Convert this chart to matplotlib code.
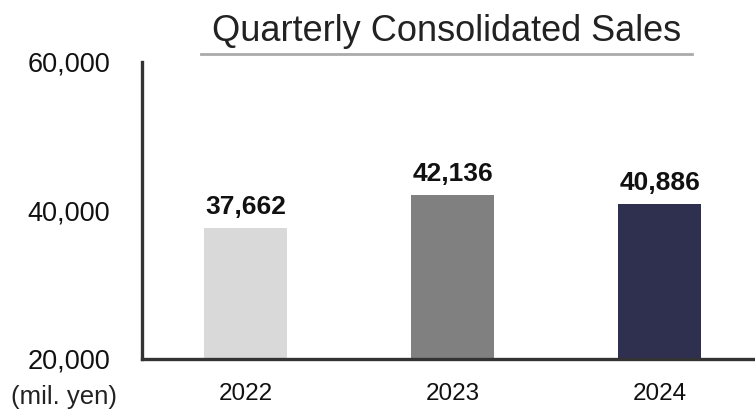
import matplotlib
matplotlib.use("Agg")
import matplotlib.pyplot as plt
from matplotlib.lines import Line2D
from matplotlib.ticker import FuncFormatter

plt.rcParams['font.family'] = ['Liberation Sans', 'DejaVu Sans']

years = ["2022", "2023", "2024"]
sales = [37662, 42136, 40886]
bar_colors = ["#d9d9d9", "#808080", "#2f2f50"]
y_ticks = [20000, 40000, 60000]

fig = plt.figure(figsize=(7.55, 4.15), dpi=100)
ax = fig.add_axes([0.188, 0.135, 0.812, 0.716])

x = list(range(len(years)))
bars = ax.bar(x, sales, width=0.4, color=bar_colors, zorder=2)

for rect, v in zip(bars, sales):
    ax.annotate(f"{v:,}", (rect.get_x() + rect.get_width() / 2, rect.get_height()),
                xytext=(0, 6), textcoords="offset points",
                ha="center", va="bottom", fontsize=19, fontweight="bold", color="#111111")

ax.set_xlim(-0.5, 2.46)
ax.set_ylim(20000, 60000)
ax.set_yticks(y_ticks)
ax.yaxis.set_major_formatter(FuncFormatter(lambda v, p: f"{int(v):,}"))
ax.set_xticks(x)
ax.set_xticklabels(years)
ax.tick_params(axis="y", length=0, pad=23, labelsize=19.5, labelcolor="#111111")
ax.tick_params(axis="x", length=0, pad=17, labelsize=17.5, labelcolor="#111111")

for side in ("top", "right"):
    ax.spines[side].set_visible(False)
for side in ("left", "bottom"):
    ax.spines[side].set_linewidth(2.4)
    ax.spines[side].set_color("#333333")
    ax.spines[side].set_capstyle("projecting")

fig.text(0.085, 0.043, "(mil. yen)", ha="center", va="center", fontsize=18.5, color="#222222")

fig.text(0.592, 0.925, "Quarterly Consolidated Sales", ha="center", va="center",
         fontsize=26, color="#222222")
fig.add_artist(Line2D([201 / 755, 692 / 755], [1 - 54 / 415, 1 - 54 / 415],
                      transform=fig.transFigure, color="#aaaaaa", linewidth=2))

fig.savefig("out.png", dpi=100)
